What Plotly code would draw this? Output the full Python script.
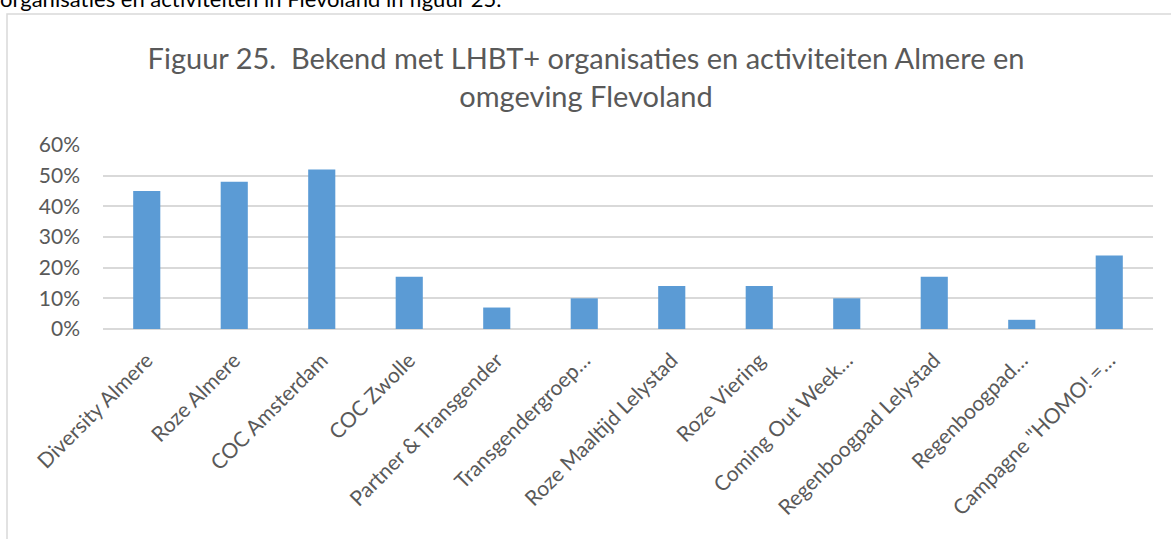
import plotly.graph_objects as go

categories = [
    "Diversity Almere",
    "Roze Almere",
    "COC Amsterdam",
    "COC Zwolle",
    "Partner & Transgender",
    "Transgendergroep…",
    "Roze Maaltijd Lelystad",
    "Roze Viering",
    "Coming Out Week…",
    "Regenboogpad Lelystad",
    "Regenboogpad…",
    "Campagne \"HOMO! =…",
]
values = [0.45, 0.48, 0.52, 0.17, 0.07, 0.10, 0.14, 0.14, 0.10, 0.17, 0.03, 0.24]
y_ticks = [0, 0.1, 0.2, 0.3, 0.4, 0.5, 0.6]

title_text = "Figuur 25.  Bekend met LHBT+ organisaties en activiteiten Almere en<br>omgeving Flevoland"
top_text = "organisaties en activiteiten in Flevoland in figuur 25."

W, H = 1171, 539
L, R, T, B = 103, 18, 145, 210
pw = W - L - R
ph = H - T - B

def px_x(p):
    return (p - L) / pw

def px_y(p):
    return (H - B - p) / ph

GRAY = "#595959"
FONT = "Lato"

fig = go.Figure(
    go.Bar(
        x=categories,
        y=values,
        marker=dict(color="#5b9bd5", line=dict(width=0)),
        width=0.31,
        hoverinfo="skip",
    )
)

fig.update_layout(
    width=W,
    height=H,
    margin=dict(l=L, r=R, t=T, b=B, autoexpand=False),
    paper_bgcolor="white",
    plot_bgcolor="white",
    showlegend=False,
    font=dict(family=FONT, color=GRAY),
    title=dict(
        text=title_text,
        xref="paper",
        x=px_x(586),
        xanchor="center",
        yref="container",
        y=(H - 69) / H,
        yanchor="middle",
        font=dict(family=FONT, size=29, color=GRAY),
    ),
)

fig.update_yaxes(
    range=[0, 0.6],
    tickvals=y_ticks,
    tickformat=".0%",
    showgrid=True,
    gridcolor="#d9d9d9",
    gridwidth=1.8,
    zeroline=True,
    zerolinecolor="#d9d9d9",
    zerolinewidth=1.8,
    showline=False,
    ticks="",
    ticklabelstandoff=22,
    tickfont=dict(family=FONT, size=21, color=GRAY),
    fixedrange=True,
)

fig.update_xaxes(
    type="category",
    tickangle=-45,
    showline=False,
    showgrid=False,
    ticks="",
    ticklabelstandoff=14,
    tickfont=dict(family=FONT, size=21, color=GRAY),
    fixedrange=True,
)

# chart border (light gray frame, cropped at bottom/right in reference)
fig.add_shape(
    type="rect",
    xref="paper",
    yref="paper",
    x0=px_x(7),
    x1=px_x(1178),
    y0=px_y(560),
    y1=px_y(14),
    line=dict(color="#d9d9d9", width=1.5),
    fillcolor="rgba(0,0,0,0)",
    layer="below",
)

# partially visible running text above the chart
fig.add_annotation(
    text=top_text,
    xref="paper",
    yref="paper",
    x=px_x(-2),
    y=px_y(14),
    xanchor="left",
    yanchor="bottom",
    showarrow=False,
    font=dict(family=FONT, size=22, color="#000000"),
)

fig.write_html(
    "out.html",
    config={"displayModeBar": False},
    post_script="document.body.style.margin='0';document.body.style.overflow='hidden';",
)
